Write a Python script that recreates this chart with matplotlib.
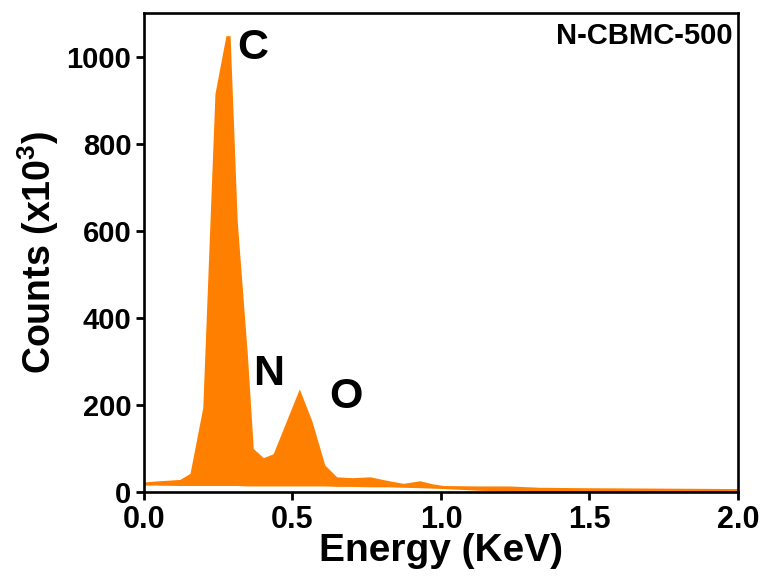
import matplotlib
matplotlib.use("Agg")
import matplotlib.pyplot as plt
import numpy as np

# EDS spectrum of N-CBMC-500
energy = [0.0, 0.031, 0.121, 0.155, 0.198, 0.239, 0.276, 0.290, 0.314, 0.348,
          0.368, 0.402, 0.435, 0.523, 0.565, 0.609, 0.649, 0.70, 0.761, 0.817,
          0.873, 0.929, 0.97, 1.008, 1.13, 1.23, 1.33, 1.48, 1.75, 2.0]
counts = [23, 25, 29, 43, 194, 915, 1048, 1048, 622, 317,
          100, 79, 88, 237, 164, 62, 35, 33, 35, 27,
          20, 26, 19, 15, 14, 14, 11, 10, 9, 8]
background = [16, 16, 15, 15, 15, 15, 15, 15, 15, 14,
              14, 14, 14, 14, 14, 14, 13, 13, 12, 12,
              11, 10, 9, 8, 4, 2, 1, 1, 1, 1]

peak_labels = ["C", "N", "O"]
peak_pos = [(0.365, 1020), (0.42, 272), (0.68, 218)]

x_ticks = [0.0, 0.5, 1.0, 1.5, 2.0]
y_ticks = [0, 200, 400, 600, 800, 1000]

plt.rcParams["font.family"] = ["Liberation Sans", "DejaVu Sans"]
plt.rcParams["font.weight"] = "bold"
plt.rcParams["mathtext.fontset"] = "custom"
plt.rcParams["mathtext.rm"] = "Liberation Sans:bold"
plt.rcParams["mathtext.it"] = "Liberation Sans:bold"
plt.rcParams["mathtext.bf"] = "Liberation Sans:bold"
plt.rcParams["mathtext.default"] = "rm"

fig = plt.figure(figsize=(7.67, 5.83), dpi=100)
ax = fig.add_axes([0.1877, 0.156, 0.7745, 0.8217])

ax.fill_between(energy, background, counts, color="#ff8000", linewidth=0)

ax.set_xlim(0, 2.0)
ax.set_ylim(0, 1100)
ax.set_xticks(x_ticks)
ax.set_xticklabels([f"{v:.1f}" for v in x_ticks], fontsize=22, fontweight="bold")
ax.set_yticks(y_ticks)
ax.set_yticklabels([str(v) for v in y_ticks], fontsize=21, fontweight="bold")
ax.tick_params(direction="out", length=6, width=2, pad=3, color="black")

for s in ax.spines.values():
    s.set_linewidth(1.9)

ax.set_xlabel("Energy (KeV)", fontsize=28, fontweight="bold", labelpad=-1)
ax.set_ylabel(r"Counts (x10$^{3}$)", fontsize=27, fontweight="bold", labelpad=4)

for lab, (xp, yp) in zip(peak_labels, peak_pos):
    ax.text(xp, yp, lab, fontsize=31, fontweight="bold", ha="center", va="center")

ax.text(0.991, 0.981, "N-CBMC-500", transform=ax.transAxes, fontsize=21,
        fontweight="bold", ha="right", va="top")

fig.savefig("out.png", dpi=100)
